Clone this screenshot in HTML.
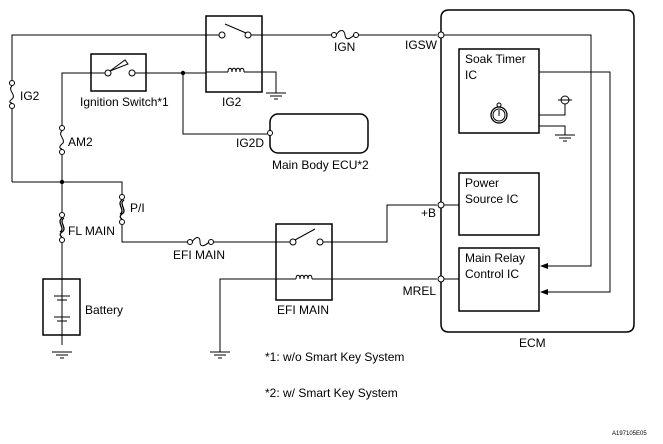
<!DOCTYPE html>
<html><head><style>
html,body{margin:0;padding:0;background:#fff;}
svg{display:block;}
text{font-family:"Liberation Sans",sans-serif;font-size:12px;fill:#000;}
</style></head><body>
<svg width="663" height="444" viewBox="0 0 663 444" xmlns="http://www.w3.org/2000/svg">
<g fill="none" stroke="#000" stroke-width="1">
<!-- top wire -->
<polyline points="12,82 12,35 219,35"/>
<line x1="251" y1="35" x2="333" y2="35"/>
<line x1="357" y1="35" x2="437" y2="35"/>
<!-- IG2 fuse -->
<circle cx="12" cy="83" r="2.5" fill="#fff"/><circle cx="12" cy="106" r="2.5" fill="#fff"/>
<path d="M12,86 C7,90 17,95 12,99 C7,103 12,103 12,103"/>
<line x1="12" y1="108" x2="12" y2="182"/>
<polyline points="12,182 122,182 122,195"/>
<!-- IG2 relay -->
<rect x="206" y="16" width="56" height="76" stroke-width="1.5"/>
<circle cx="222" cy="35" r="3" fill="#fff"/><circle cx="248" cy="35" r="3" fill="#fff"/>
<line x1="225" y1="24" x2="246" y2="33"/>
<line x1="206" y1="72" x2="228" y2="72"/>
<path d="M228,72 c0,-5 4,-5 4,0 c0,-5 4,-5 4,0 c0,-5 4,-5 4,0 c0,-5 4,-5 4,0"/>
<polyline points="244,72 276,72 276,93"/>
<!-- ignition switch -->
<rect x="91" y="54" width="55" height="37" stroke-width="1.5"/>
<circle cx="108" cy="73" r="3" fill="#fff"/><circle cx="132" cy="73" r="3" fill="#fff"/>
<path d="M110,71 L125,60 L128,64 Z" fill="#fff"/>
<polyline points="105,73 62,73 62,126"/>
<line x1="135" y1="73" x2="206" y2="73"/>
<polyline points="183,73 183,134 267,134"/>
<!-- AM2 fuse -->
<circle cx="62" cy="128" r="2.5" fill="#fff"/><circle cx="62" cy="152" r="2.5" fill="#fff"/>
<path d="M62,131 C57,135 67,140 62,144 C57,148 62,149 62,149"/>
<line x1="62" y1="155" x2="62" y2="212"/>
<!-- Main body ECU -->
<rect x="270" y="114" width="98" height="39" rx="8" stroke-width="1.5"/>
<circle cx="270" cy="133" r="2.5" fill="#fff"/>
<!-- FL MAIN -->
<circle cx="62" cy="215" r="2.5" fill="#fff"/><circle cx="62" cy="240" r="2.5" fill="#fff"/>
<path d="M62,218 C56,222 66,228 60,232 M64,218 C58,222 68,228 62,232 M62,232 C58,235 62,237 62,237" stroke-width="1.3"/>
<line x1="62" y1="243" x2="62" y2="345"/>
<!-- P/I -->
<circle cx="122" cy="197" r="2.5" fill="#fff"/><circle cx="122" cy="222" r="2.5" fill="#fff"/>
<path d="M122,200 C116,204 126,210 120,214 M124,200 C118,204 128,210 122,214 M122,214 C118,217 122,219 122,219" stroke-width="1.3"/>
<polyline points="122,225 122,242 188,242"/>
<circle cx="190" cy="242" r="2.5" fill="#fff"/><circle cx="211" cy="242" r="2.5" fill="#fff"/>
<path d="M192,242 C196,236 200,236 200,242 C200,248 205,246 209,242"/>
<line x1="213" y1="242" x2="290" y2="242"/>
<!-- battery -->
<rect x="43" y="279" width="37" height="56" stroke-width="1.5"/>
<line x1="54" y1="296" x2="70" y2="296"/><line x1="57" y1="300" x2="67" y2="300"/>
<line x1="54" y1="317" x2="70" y2="317"/><line x1="57" y1="321" x2="67" y2="321"/>
<line x1="62" y1="302" x2="62" y2="315" stroke-dasharray="3,2"/>
<!-- grounds -->
<g>
<line x1="52" y1="352" x2="72" y2="352"/><line x1="56" y1="355" x2="68" y2="355"/><line x1="60" y1="358" x2="64" y2="358"/>
<line x1="266" y1="93" x2="286" y2="93"/><line x1="270" y1="96" x2="282" y2="96"/><line x1="274" y1="99" x2="278" y2="99"/>
<line x1="210" y1="352" x2="230" y2="352"/><line x1="214" y1="355" x2="226" y2="355"/><line x1="218" y1="358" x2="222" y2="358"/>
<line x1="555" y1="135" x2="575" y2="135"/><line x1="559" y1="138" x2="571" y2="138"/><line x1="563" y1="141" x2="567" y2="141"/>
</g>
<!-- EFI MAIN relay -->
<rect x="276" y="224" width="56" height="76" stroke-width="1.5"/>
<circle cx="293" cy="242" r="3" fill="#fff"/><circle cx="320" cy="242" r="3" fill="#fff"/>
<line x1="295" y1="240" x2="315" y2="229"/>
<polyline points="323,242 387,242 387,205 437,205"/>
<polyline points="220,352 220,279 296,279"/>
<path d="M296,279 c0,-5 4,-5 4,0 c0,-5 4,-5 4,0 c0,-5 4,-5 4,0 c0,-5 4,-5 4,0"/>
<line x1="312" y1="279" x2="437" y2="279"/>
<!-- IGN fuse -->
<circle cx="334" cy="35" r="2.5" fill="#fff"/><circle cx="356" cy="35" r="2.5" fill="#fff"/>
<path d="M336,35 C340,29 344,29 345,35 C346,41 350,39 354,35"/>
<!-- ECM -->
<path d="M441,10 L626,10 Q634,10 634,18 L634,144 Q634,152 626,152 Z" stroke="none"/>
<rect x="441" y="10" width="193" height="142" rx="0" stroke="none"/>
<path d="M449,10 L626,10 Q634,10 634,18 L634,324 Q634,332 626,332 L449,332 Q441,332 441,324 L441,18 Q441,10 449,10 Z" stroke-width="1.5"/>
<circle cx="441" cy="35" r="3" fill="#fff"/>
<circle cx="441" cy="205" r="3" fill="#fff"/>
<circle cx="441" cy="279" r="3" fill="#fff"/>
<polyline points="444,35 591,35 591,266 546,266"/>
<polyline points="539,72 610,72 610,292 546,292"/>
<line x1="444" y1="205" x2="459" y2="205"/>
<line x1="444" y1="279" x2="459" y2="279"/>
<rect x="459" y="49" width="80" height="84" stroke-width="1.5"/>
<rect x="459" y="173" width="80" height="62" stroke-width="1.5"/>
<rect x="459" y="248" width="80" height="63" stroke-width="1.5"/>
<polyline points="539,115 565,115 565,104"/>
<circle cx="565" cy="100" r="4"/>
<line x1="558" y1="100" x2="572" y2="100"/>
<polyline points="539,126 565,126 565,135"/>
<circle cx="499" cy="115" r="8" stroke-width="1.3"/>
<circle cx="499" cy="115" r="6"/>
<circle cx="499" cy="105" r="2"/>
<line x1="499" y1="110" x2="499" y2="116"/>
</g>
<polygon points="540,266 548,263 548,269" fill="#000"/>
<polygon points="540,292 548,289 548,295" fill="#000"/>
<circle cx="183" cy="73" r="2.2" fill="#000"/>
<circle cx="62" cy="182" r="2.2" fill="#000"/>
<text x="20" y="100">IG2</text>
<text x="80" y="106">Ignition Switch*1</text>
<text x="222" y="106">IG2</text>
<text x="68" y="146">AM2</text>
<text x="264" y="147" text-anchor="end">IG2D</text>
<text x="272" y="169">Main Body ECU*2</text>
<text x="130" y="212">P/I</text>
<text x="68" y="235">FL MAIN</text>
<text x="173" y="259">EFI MAIN</text>
<text x="277" y="314">EFI MAIN</text>
<text x="85" y="314">Battery</text>
<text x="334" y="51">IGN</text>
<text x="437" y="49" text-anchor="end">IGSW</text>
<text x="465" y="63">Soak Timer</text>
<text x="465" y="79">IC</text>
<text x="465" y="187">Power</text>
<text x="465" y="203">Source IC</text>
<text x="465" y="262">Main Relay</text>
<text x="465" y="278">Control IC</text>
<text x="436" y="217" text-anchor="end">+B</text>
<text x="436" y="295" text-anchor="end">MREL</text>
<text x="519" y="347">ECM</text>
<text x="265" y="361">*1: w/o Smart Key System</text>
<text x="265" y="397">*2: w/ Smart Key System</text>
<text x="612" y="435" style="font-size:6px">A197105E05</text>
</svg>
</body></html>
